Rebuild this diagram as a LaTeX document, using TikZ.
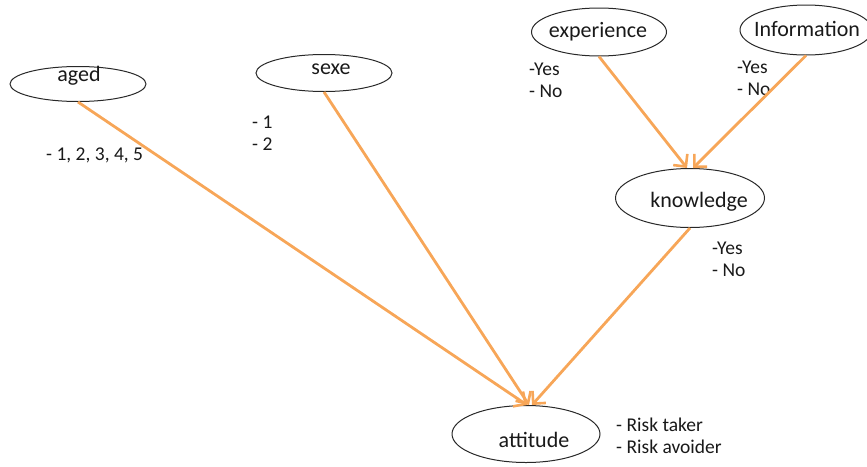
\documentclass[tikz,border=0pt]{standalone}
\usepackage{fontspec}
\setmainfont{Carlito}
\usetikzlibrary{shapes.geometric,arrows.meta}
\definecolor{arrowor}{RGB}{247,166,88}
\definecolor{edgegray}{RGB}{40,40,40}
\tikzset{
  var/.style={draw=edgegray, line width=1pt, ellipse, inner sep=0pt},
  vtext/.style={font=\fontsize{22}{25}\selectfont, inner sep=0pt, text=black!90},
  lab/.style={font=\fontsize{19.5}{22}\selectfont, inner sep=0pt, anchor=west, align=left, text=black!90},
  conn/.style={draw=arrowor, line width=2.8pt, -{Straight Barb[length=9pt,width=18pt,line width=2.6pt]}}
}
\begin{document}
\begin{tikzpicture}[x=1pt,y=-1pt]
\useasboundingbox (0,0) rectangle (867,466);
% ellipses
\node[var, minimum width=136pt, minimum height=35pt] (aged) at (78,84) {};
\node[var, minimum width=136pt, minimum height=37pt] (sexe) at (324,73) {};
\node[var, minimum width=135pt, minimum height=48pt] (experience) at (599,32) {};
\node[var, minimum width=132pt, minimum height=50pt] (information) at (806,30) {};
\node[var, minimum width=149pt, minimum height=59pt] (knowledge) at (690,198) {};
\node[var, minimum width=148pt, minimum height=57pt] (attitude) at (526,434) {};
% texts
\node[vtext] (tAged) at (79,76) {aged};
\node[vtext] (tSexe) at (331,69) {sexe};
\node[vtext] (tExp) at (598,32) {experience};
\node[vtext] (tInf) at (807,29) {Information};
\node[vtext] (tKnow) at (699,202) {knowledge};
\node[vtext] (tAtt) at (534,440) {attitude};
% value labels
\node[lab] (lAged) at (46,155) {- 1, 2, 3, 4, 5};
\node[lab] (lSexe) at (252,133) {- 1\\- 2};
\node[lab] (lExp) at (529,80) {-Yes\\- No};
\node[lab] (lInf) at (737,78) {-Yes\\- No};
\node[lab] (lKnow) at (712,259) {-Yes\\- No};
\node[lab] (lAtt) at (616,436) {- Risk taker\\- Risk avoider};
% connectors
\draw[conn] (aged.south) -- ([xshift=1pt]attitude.north);
\draw[conn] (sexe.south) -- ([xshift=3pt]attitude.north);
\draw[conn] (knowledge.south) -- ([xshift=6pt]attitude.north);
\draw[conn] (experience.south) -- ([xshift=-3pt]knowledge.north);
\draw[conn] (information.south) -- ([xshift=3pt]knowledge.north);
\end{tikzpicture}
\end{document}
